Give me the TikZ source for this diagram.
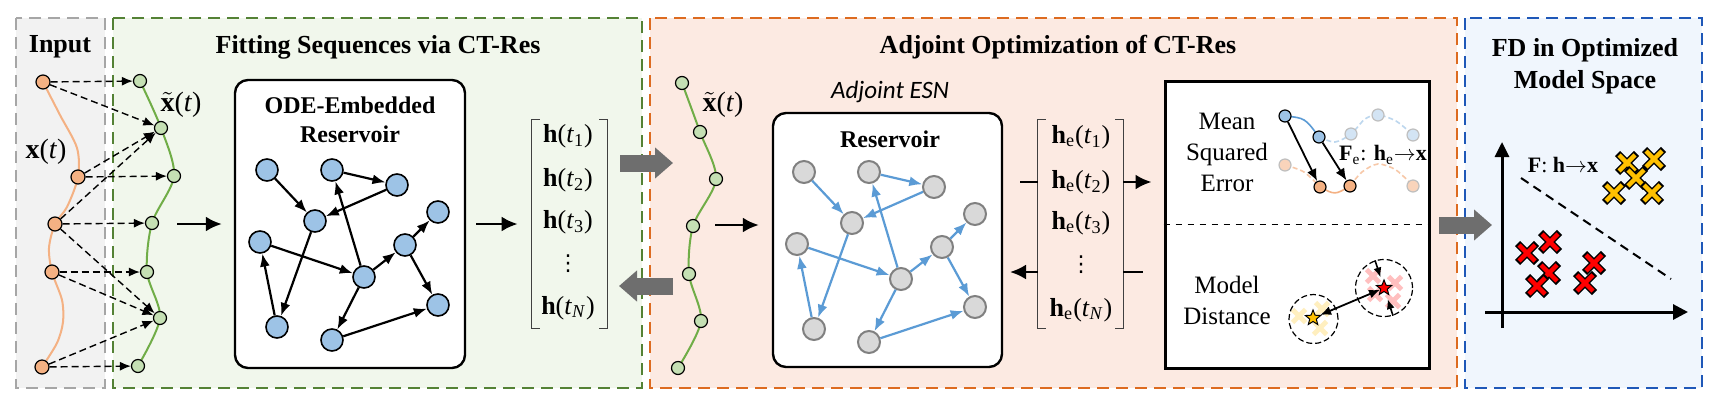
\documentclass[tikz,border=0pt]{standalone}
\usepackage{fontspec}
\setmainfont{Liberation Serif}
\newfontfamily\figrm{Liberation Serif}
\newfontfamily\adjfont{Carlito}
\newfontfamily\symfont{DejaVu Sans}
\usetikzlibrary{arrows.meta,shapes.geometric,calc}
\definecolor{inbox}{HTML}{F2F2F2}
\definecolor{inboxline}{HTML}{A6A6A6}
\definecolor{fitbox}{HTML}{F1F7EC}
\definecolor{fitline}{HTML}{548235}
\definecolor{optbox}{HTML}{FCEAE2}
\definecolor{optline}{HTML}{DD6B20}
\definecolor{fdbox}{HTML}{F0F6FD}
\definecolor{fdline}{HTML}{1F58B8}
\definecolor{ptorange}{HTML}{F4B183}
\definecolor{ptgreen}{HTML}{C5E0B4}
\definecolor{curvegreen}{HTML}{70AD47}
\definecolor{neuronblue}{HTML}{9DC3E6}
\definecolor{neurongray}{HTML}{D9D9D9}
\definecolor{edgeblue}{HTML}{5B9BD5}
\definecolor{flowgray}{HTML}{6E6E6E}
\definecolor{classgold}{HTML}{FFC000}
\definecolor{classred}{HTML}{FF0000}
\tikzset{
  panel/.style={line width=1pt,dash pattern=on 6pt off 3.5pt},
  ptitle/.style={font=\figrm\bfseries\fontsize{13}{16}\selectfont,align=center,inner sep=0},
  restitle/.style={font=\figrm\bfseries\fontsize{12}{14.5}\selectfont,align=center,inner sep=0},
  curvelabel/.style={font=\figrm\fontsize{14}{15}\selectfont,inner sep=0},
  entry/.style={font=\figrm\fontsize{13}{15}\selectfont,inner sep=0},
  dotsentry/.style={inner sep=0,font=\symfont\fontsize{11}{12}\selectfont},
  losstext/.style={font=\figrm\fontsize{12.5}{15.5}\selectfont,align=center,inner sep=0},
  inpt/.style={circle,draw,fill=ptorange,minimum size=7pt,inner sep=0,line width=0.6pt},
  fitpt/.style={circle,draw,fill=ptgreen,minimum size=6.5pt,inner sep=0,line width=0.6pt},
  neuron/.style={circle,draw,fill=neuronblue,minimum size=11pt,inner sep=0,line width=0.8pt},
  grayneuron/.style={circle,draw=gray,fill=neurongray,minimum size=11pt,inner sep=0,line width=1pt},
  resedge/.style={-{Latex[length=6.5pt,width=5pt]},line width=1.1pt},
  blueedge/.style={resedge,draw=edgeblue,-{Latex[length=6.5pt,width=5pt,fill=edgeblue]}},
  dasharr/.style={-{Latex[length=5.5pt,width=4.5pt]},line width=0.7pt,dash pattern=on 3.5pt off 2pt},
  flow/.style={-{Latex[length=8pt,width=7.5pt]},line width=1.3pt},
  bigarr/.style={draw=flowgray,line width=8.5pt,-{Triangle[length=9pt,width=15pt,fill=flowgray]}},
  resbox/.style={draw,rounded corners=6.5pt,line width=1.2pt,fill=white,inner sep=0},
  bracket/.style={line width=0.6pt,draw=black!75},
  smallpt/.style={circle,draw,minimum size=6pt,inner sep=0,line width=0.6pt},
  fadept/.style={circle,draw=black!25,minimum size=6pt,inner sep=0,line width=0.6pt},
  starpt/.style={star,star points=5,star point ratio=2.3,draw,line width=0.5pt,minimum size=8pt,inner sep=0},
  pics/crossmark/.style={code={
    \draw[line width=3.6pt] (-9.5,-9.5) -- (9.5,9.5) (-9.5,9.5) -- (9.5,-9.5);
    \draw[#1,line width=2.2pt] (-8,-8) -- (8,8) (-8,8) -- (8,-8);
  }},
  pics/palemark/.style={code={
    \draw[#1,line width=2.4pt] (-6.5,-6.5) -- (6.5,6.5) (-6.5,6.5) -- (6.5,-6.5);
  }}
}
\begin{document}
\begin{tikzpicture}[x=0.5pt,y=-0.5pt]
\useasboundingbox (0,0) rectangle (1728,408);
\fill[white] (0,0) rectangle (1728,408);
\draw[panel,draw=inboxline,fill=inbox] (16,18) rectangle (105,388);
\draw[panel,draw=fitline,fill=fitbox] (113,18) rectangle (642,388);
\draw[panel,draw=optline,fill=optbox] (650,18) rectangle (1457,388);
\draw[panel,draw=fdline,fill=fdbox] (1465,18) rectangle (1702,388);
\node[ptitle] (tin) at (60,47) {Input};
\node[ptitle] (tfit) at (378,47) {Fitting Sequences via CT-Res};
\node[ptitle] (topt) at (1058,47) {Adjoint Optimization of CT-Res};
\node[ptitle] (tfd) at (1585,66) {FD in Optimized\\Model Space};
\draw[line width=1pt,ptorange] plot[smooth] coordinates {(43,82) (60,115) (77,148) (78,177) (67,207) (55,224) (49,248) (52,272) (62,300) (63,322) (57,343) (42,367)};
\draw[line width=1pt,curvegreen] plot[smooth] coordinates {(140,81) (161,128) (174,176) (152,223) (147,272) (160,318) (138,366)};
\foreach \n/\x/\y in {1/43/82,2/78/177,3/55/224,4/52/272,5/42/367}
  \node[inpt] (o\n) at (\x,\y) {};
\foreach \n/\x/\y in {1/140/81,2/161/128,3/174/176,4/152/223,5/147/272,6/160/318,7/138/366}
  \node[fitpt] (g\n) at (\x,\y) {};
\foreach \a/\b in {1/1,1/2,2/2,2/3,3/2,3/4,3/6,4/5,4/6,5/6,5/7}
  \draw[dasharr] (o\a) -- (g\b);
\node[curvelabel] (xlab) at (46,152) {\textbf{x}(\textit{t})};
\node[curvelabel] (xtlab) at (181,105) {$\tilde{\mathbf{x}}$(\textit{t})};
\node[resbox,minimum width=115pt,minimum height=144pt] (ode) at (350,224) {};
\node[restitle] (odet) at (350,120) {ODE-Embedded\\Reservoir};
\foreach \n/\x/\y in {1/267/170,2/332/170,3/397/185,4/315/221,5/438/212,6/260/242,7/405/245,8/364/277,9/438/305,10/277/327,11/332/340}
  \node[neuron] (b\n) at (\x,\y) {};
\foreach \a/\b in {1/4,2/3,3/4,4/10,10/6,6/8,8/2,8/7,7/5,7/9,8/11,11/9}
  \draw[resedge] (b\a) -- (b\b);
\coordinate (fitin) at (177,224);
\draw[flow,shorten >=6pt] (fitin) -- (ode.west);
\node[inner sep=0,minimum width=37.5pt,minimum height=104pt] (hmat) at (569.5,224) {};
\draw[bracket] ([xshift=4pt]hmat.north west) -| (hmat.south west) -- ++(8,0);
\draw[bracket] ([xshift=-4pt]hmat.north east) -| (hmat.south east) -- ++(-8,0);
\node[entry] (h1) at (568,136) {\textbf{h}(\textit{t}\textsubscript{1})};
\node[entry] (h2) at (568,180) {\textbf{h}(\textit{t}\textsubscript{2})};
\node[entry] (h3) at (568,222) {\textbf{h}(\textit{t}\textsubscript{3})};
\node[dotsentry] (hd) at (568,264) {⋮};
\node[entry] (hN) at (568,308) {\textbf{h}(\textit{t}\textsubscript{\textit{N}})};
\draw[flow,shorten <=5pt,shorten >=7pt] (ode.east) -- (hmat.west);
\coordinate (fwda) at (620,163);
\coordinate (fwdb) at (673,163);
\coordinate (bwda) at (673,286);
\coordinate (bwdb) at (619,286);
\draw[bigarr] (fwda) -- (fwdb);
\draw[bigarr] (bwda) -- (bwdb);
\draw[line width=1pt,curvegreen] plot[smooth] coordinates {(682,83) (700,132) (716,179) (693,226) (689,274) (701,321) (678,368)};
\foreach \n/\x/\y in {1/682/83,2/700/132,3/716/179,4/693/226,5/689/274,6/701/321,7/678/368}
  \node[fitpt] (k\n) at (\x,\y) {};
\node[curvelabel] (xtlab2) at (723,105) {$\tilde{\mathbf{x}}$(\textit{t})};
\node[font=\adjfont\itshape\fontsize{12.5}{14}\selectfont,inner sep=0] (adjl) at (890,92) {Adjoint ESN};
\node[resbox,minimum width=114.5pt,minimum height=127pt] (res) at (887.5,240) {};
\node[restitle] (rest) at (890,139) {Reservoir};
\foreach \n/\x/\y in {1/267/170,2/332/170,3/397/185,4/315/221,5/438/212,6/260/242,7/405/245,8/364/277,9/438/305,10/277/327,11/332/340}
  \node[grayneuron] (r\n) at (\x+537,\y+2) {};
\foreach \a/\b in {1/4,2/3,3/4,4/10,10/6,6/8,8/2,8/7,7/5,7/9,8/11,11/9}
  \draw[blueedge] (r\a) -- (r\b);
\coordinate (optin) at (715,225);
\draw[flow,shorten >=6.5pt] (optin) -- (optin -| res.west);
\node[inner sep=0,minimum width=42.5pt,minimum height=104pt] (hemat) at (1080.5,224) {};
\draw[bracket] ([xshift=4pt]hemat.north west) -| (hemat.south west) -- ++(8,0);
\draw[bracket] ([xshift=-4pt]hemat.north east) -| (hemat.south east) -- ++(-8,0);
\node[entry] (he1) at (1081,137) {\textbf{h}\textsubscript{e}(\textit{t}\textsubscript{1})};
\node[entry] (he2) at (1081,182) {\textbf{h}\textsubscript{e}(\textit{t}\textsubscript{2})};
\node[entry] (he3) at (1081,223) {\textbf{h}\textsubscript{e}(\textit{t}\textsubscript{3})};
\node[dotsentry] (hed) at (1081,265) {⋮};
\node[entry] (heN) at (1081,310) {\textbf{h}\textsubscript{e}(\textit{t}\textsubscript{\textit{N}})};
\node[draw,line width=1.5pt,fill=white,minimum width=132pt,minimum height=143.5pt,inner sep=0] (loss) at (1297,224.5) {};
\draw[dashed,line width=0.8pt] (loss.west) -- (loss.east);
\coordinate (hetick) at (1020,182);
\coordinate (heback) at (1010,272);
\coordinate (lossback) at (1143,272);
\draw[line width=1.3pt] (hetick) -- (hetick -| hemat.west);
\draw[flow] (heback -| hemat.west) -- (heback);
\draw[flow,shorten >=6pt] (hetick -| hemat.east) -- (hetick -| loss.west);
\draw[line width=1.3pt] (lossback -| hemat.east) -- (lossback);
\node[losstext] (mse) at (1227,152) {Mean\\Squared\\Error};
\node[losstext] (mdist) at (1227,300) {Model\\Distance};
\draw[line width=0.8pt,edgeblue!40,dash pattern=on 2.5pt off 1.5pt] plot[smooth] coordinates {(1319,137) (1335,142) (1351,134) (1365,119) (1378,115) (1396,121) (1413,135)};
\draw[line width=0.8pt,edgeblue] (1285,116) .. controls (1305,118) .. (1319,137);
\draw[line width=0.8pt,ptorange!70,dash pattern=on 2.5pt off 1.5pt] plot[smooth] coordinates {(1285,165) (1304,172) (1320,187)};
\draw[line width=0.8pt,ptorange!70,dash pattern=on 2.5pt off 1.5pt] plot[smooth] coordinates {(1350,186) (1362,172) (1378,164) (1396,170) (1413,186)};
\draw[line width=0.8pt,ptorange] (1320,187) .. controls (1335,195) .. (1350,186);
\node[smallpt,fill=neuronblue] (mb1) at (1285,116) {};
\node[smallpt,fill=neuronblue] (mb2) at (1319,137) {};
\node[fadept,fill=neuronblue!45] (fb1) at (1351,134) {};
\node[fadept,fill=neuronblue!45] (fb2) at (1378,115) {};
\node[fadept,fill=neuronblue!45] (fb3) at (1413,135) {};
\node[fadept,fill=ptorange!55] (fo1) at (1285,165) {};
\node[smallpt,fill=ptorange] (mo1) at (1320,187) {};
\node[smallpt,fill=ptorange] (mo2) at (1350,186) {};
\node[fadept,fill=ptorange!55] (fo2) at (1413,186) {};
\draw[-{Latex[length=6pt,width=5pt]},line width=0.9pt] (mb1) -- (mo1);
\draw[-{Latex[length=6pt,width=5pt]},line width=0.9pt] (mb2) -- (mo2);
\node[font=\figrm\fontsize{11}{13}\selectfont,inner sep=0] (fel) at (1383,155) {\textbf{F}\textsubscript{e}: \textbf{h}\textsubscript{e}$\rightarrow$\textbf{x}};
\foreach \x/\y in {1299/316,1322/309,1320/328}
  \pic at (\x,\y) {palemark={classgold!25}};
\foreach \x/\y in {1373/276,1395/283,1375/294,1393/301}
  \pic at (\x,\y) {palemark={classred!25}};
\node[circle,draw,dash pattern=on 3pt off 1.5pt,line width=0.6pt,minimum size=24.5pt,inner sep=0] (c1) at (1313.5,319) {};
\node[circle,draw,dash pattern=on 3pt off 1.5pt,line width=0.6pt,minimum size=28.5pt,inner sep=0] (c2) at (1384,288) {};
\node[starpt,fill=classgold] (ystar) at (1313,318) {};
\node[starpt,fill=classred] (rstar) at (1384,288) {};
\draw[{Latex[length=5.5pt,width=4.5pt]}-{Latex[length=5.5pt,width=4.5pt]},line width=0.9pt] (ystar) -- (rstar);
\draw[-{Latex[length=5pt,width=4pt]},line width=0.8pt] (c2.108) -- ($(c2.108)!0.62!(rstar)$);
\draw[-{Latex[length=5pt,width=4pt]},line width=0.8pt] (c2.-72) -- ($(c2.-72)!0.6!(rstar)$);
\coordinate (fda) at (1439,225);
\coordinate (fdb) at (1492,225);
\draw[bigarr] (fda) -- (fdb);
\coordinate (yaxa) at (1502,328);
\coordinate (yaxb) at (1502,142);
\coordinate (xaxa) at (1485,312);
\coordinate (xaxb) at (1688,312);
\draw[line width=1.5pt,-{Triangle[length=7.5pt,width=7pt]}] (yaxa) -- (yaxb);
\draw[line width=1.5pt,-{Triangle[length=7.5pt,width=7.5pt]}] (xaxa) -- (xaxb);
\coordinate (sepa) at (1521,178);
\coordinate (sepb) at (1671,279);
\draw[line width=1pt,dash pattern=on 4.5pt off 3pt] (sepa) -- (sepb);
\node[font=\figrm\fontsize{11}{13}\selectfont,inner sep=0] (fl) at (1563,165) {\textbf{F}: \textbf{h}$\rightarrow$\textbf{x}};
\foreach \x/\y in {1627/163,1654/159,1636/178,1614/193,1652/193}
  \pic at (\x,\y) {crossmark=classgold};
\foreach \x/\y in {1550/242,1527/253,1549/273,1537/286,1594/263,1585/283}
  \pic at (\x,\y) {crossmark=classred};
\end{tikzpicture}
\end{document}
